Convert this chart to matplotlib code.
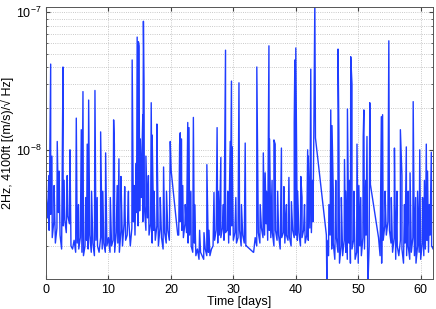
import numpy as np
import matplotlib
matplotlib.use("Agg")
import matplotlib.pyplot as plt
from matplotlib.ticker import LogLocator, MultipleLocator, NullFormatter

plt.rcParams['font.family'] = ['Liberation Sans', 'DejaVu Sans']
plt.rcParams['mathtext.default'] = 'regular'

# baseline, 4 samples per day, in units of 1e-9 (nan = no data)
nan = np.nan
base = [
    4.8, 3.2, 2.6, 3.4,  2.3, 3.0, 2.1, 2.7,  3.5, 2.4, 1.9, 2.8,  3.1, 2.5, 3.3, 2.9,   # 0-3
    2.0, 1.9, 2.2, 1.8,  2.1, 1.9, 2.3, 1.8,  1.7, 2.0, 2.2, 1.9,  2.4, 1.8, 2.1, 1.7,   # 4-7
    2.2, 2.0, 1.8, 2.3,  1.9, 2.1, 1.8, 2.0,  2.3, 1.8, 2.0, 2.2,  1.8, 2.5, 2.1, 1.8,   # 8-11
    2.6, 2.0, 2.9, 2.2,  2.4, 3.1, 2.0, 2.7,  3.0, 2.4, 3.5, 2.8,  3.6, 4.5, 3.0, 3.9,   # 12-15
    2.6, 3.2, 2.4, 2.9,  2.1, 2.6, 2.2, 2.8,  2.0, 2.7, 2.3, 1.9,  2.5, 2.1, 2.6, 2.2,   # 16-19
    nan, nan, nan, nan,  nan, 2.4, 3.0, 2.6,  2.3, 2.9, 2.5, 2.1,  2.4, 2.0, 1.8, 2.1,   # 20-23
    1.7, 1.9, 1.6, 1.8,  1.7, 1.6, 1.9, 1.7,  1.8, 1.7, 1.9, 2.0,  2.2, 2.6, 2.1, 2.4,   # 24-27
    2.3, 2.7, 2.2, 2.5,  2.6, 2.1, 2.4, 2.8,  2.2, 2.5, 2.1, 2.3,  2.6, 2.0, 2.4, 2.1,   # 28-31
    2.0, nan, nan, nan,  nan, 1.8, 2.3, 2.0,  2.5, 2.1, 2.7, 2.3,  2.4, 2.9, 2.2, 2.6,   # 32-35
    2.3, 2.5, 2.0, 2.6,  2.2, 2.4, 1.9, 2.3,  2.5, 2.1, 2.4, 2.2,  2.3, 2.0, 2.6, 2.3,   # 36-39
    2.4, 2.2, 2.5, 2.0,  2.3, 2.6, 2.1, 2.4,  2.2, 2.7, 2.5, 3.0,  nan, nan, nan, nan,   # 40-43
    nan, nan, nan, nan,  2.2, 1.7, 2.4, 1.9,  2.1, 1.6, 2.3, 1.8,  1.5, 2.0, 1.7, 2.2,   # 44-47
    1.8, 1.6, 2.1, 1.5,  1.9, 2.2, 1.6, 1.8,  1.5, 2.0, 1.7, 2.3,  1.9, 2.4, 1.7, 2.0,   # 48-51
    nan, nan, nan, nan,  nan, 2.3, 1.7, 1.5,  2.2, 2.8, 2.4, 3.0,  2.6, 2.1, 1.8, 2.3,   # 52-55
    1.6, 2.0, 1.7, 2.2,  1.9, 1.5, 2.1, 1.7,  2.0, 1.6, 1.8, 2.3,  1.7, 1.5, 2.0, 1.8,   # 56-59
    1.6, 2.1, 1.7, 1.9,  2.2, 1.8, 2.4, 2.0, 1.9,                                       # 60-62
]

# spikes and gap edges: day, value (1e-9)
spike_day = [
    0.45, 0.75, 0.95, 1.3, 1.8, 2.1, 2.72, 2.9, 3.4, 3.84, 4.85, 5.2, 5.65, 5.92,
    6.35, 6.6, 6.83, 7.3, 7.84, 8.2, 8.75, 9.1, 9.55, 10.3, 10.83, 10.95, 11.4,
    11.68, 12.0, 12.6, 13.2, 13.8, 14.1, 14.45, 14.6, 14.8, 14.9, 15.1, 15.3, 15.5,
    15.6, 15.7, 16.0, 16.4, 16.85, 17.0, 17.3, 17.76, 17.9, 18.3, 18.83, 19.3, 19.9,
    20.05, 21.1, 21.4, 21.5, 21.7, 21.9, 22.3, 22.7, 22.9, 23.2, 23.6, 23.8, 24.6,
    25.3, 25.76, 26.1, 26.9, 27.4, 27.6, 28.0, 28.4, 28.75, 29.1, 29.5, 29.7, 29.8,
    30.4, 30.9, 31.3, 31.9, 32.1, 33.2, 33.76, 34.3, 34.8, 35.1, 35.3, 35.7, 35.8,
    36.2, 36.5, 36.7, 37.1, 37.7, 38.1, 38.5, 38.9, 39.3, 39.75, 39.85, 40.0, 40.3,
    40.8, 41.0, 41.4, 41.9, 42.0, 42.4, 42.7, 42.9, 43.05, 43.15, 44.9, 44.97, 45.3,
    45.6, 45.8, 46.0, 46.4, 46.77, 46.9, 47.3, 47.8, 48.0, 48.27, 48.6, 48.8, 49.0,
    49.3, 49.8, 50.1, 50.4, 50.8, 50.9, 51.2, 51.4, 51.57, 51.85, 51.95, 53.7, 53.9,
    54.3, 54.9, 55.3, 55.8, 56.2, 56.75, 57.0, 57.4, 57.7, 58.0, 58.3, 58.8, 59.2,
    59.5, 59.85, 60.3, 60.6, 60.9, 61.1, 61.4, 61.7,
]
spike_val = [
    6.5, 42, 9, 5.5, 11.5, 7, 40, 6, 6.5, 10, 17, 4, 14, 26.5,
    4.5, 11, 23, 5, 27, 4.5, 13.5, 5, 9.5, 4.5, 16.5, 11, 5.5,
    8.6, 6.4, 5.4, 5, 45, 5.5, 8, 66, 61, 57, 12, 7, 18,
    86, 30, 9, 6.5, 22, 12.8, 5, 15.4, 5, 4.5, 7.5, 5, 11.5,
    7, 2.4, 11, 13.3, 12, 5.5, 4, 15.8, 14.5, 5, 17.2, 4, 2.6,
    2.5, 7.8, 2.6, 4.9, 14.5, 5, 8.8, 4, 53, 5, 11.5, 31.6, 10.5,
    4.5, 30.7, 4, 11.2, 2.0, 1.8, 40, 4, 9.5, 6.8, 5, 57, 12,
    6, 11.8, 11, 5, 10.3, 5.4, 4, 6.3, 4.2, 15.7, 45, 55, 5,
    6.4, 4.5, 4, 10, 9, 38.6, 6, 15, 120, 12.2, 2.4, 1.1, 4,
    19.5, 15, 5, 6, 54, 13.7, 4.5, 8.5, 5, 19.8, 6, 47.5, 30,
    5, 11, 5.5, 4.5, 12.5, 19.5, 6, 12.5, 1.1, 22, 5.6, 17.4, 18,
    5, 62, 4.5, 10.3, 5, 14, 6.5, 4, 10.5, 5, 6.8, 22.4, 4.5,
    5, 10, 4.5, 6, 11, 7, 4, 9.6,
]

base = np.array(base)
base_day = np.arange(len(base)) * 0.25
keep = ~np.isnan(base)
day = np.concatenate([base_day[keep], spike_day])
val = np.concatenate([base[keep], spike_val]) * 1e-9
order = np.argsort(day)
day = day[order]
val = val[order]

fig = plt.figure(figsize=(4.36, 3.09), dpi=100)
ax = fig.add_axes([0.1055, 0.097, 0.888, 0.880])
ax.semilogy(day, val, color='#1f3dff', lw=1.0)

ax.set_xlim(0, 62)
ax.set_ylim(1.15e-9, 1.09e-7)
ax.xaxis.set_major_locator(MultipleLocator(10))
ax.yaxis.set_major_locator(LogLocator(base=10))
ax.yaxis.set_minor_locator(LogLocator(base=10, subs=np.arange(2, 10)))
ax.yaxis.set_minor_formatter(NullFormatter())
ax.grid(True, which='major', ls=':', color='#b8b8b8', lw=0.6)
ax.grid(True, which='minor', axis='y', ls=':', color='#b8b8b8', lw=0.6)
ax.tick_params(which='both', direction='in', top=True, right=True, labelsize=9,
               color='#444444')
ax.tick_params(which='major', length=3)
ax.tick_params(which='minor', length=1.5)
for s in ax.spines.values():
    s.set_color('#555555')
    s.set_linewidth(0.7)

ax.set_xlabel('Time [days]', fontsize=9, labelpad=0)
ax.set_ylabel('2Hz, 4100ft [(m/s)/\u221a Hz]', fontsize=9, labelpad=1)

fig.savefig('out.png', dpi=100)
